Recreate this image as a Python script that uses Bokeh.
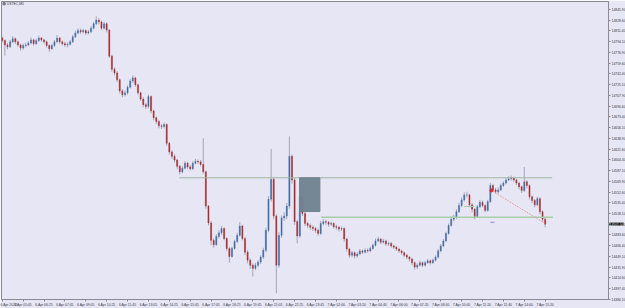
from bokeh.plotting import figure
from bokeh.models import ColumnDataSource, FixedTicker, PrintfTickFormatter, Label, Range1d
from bokeh.embed import file_html
from bokeh.resources import INLINE

# ---------------- data ----------------
symbol = "USTEC,M5"
first_open = 14800

closes = [
    14796, 14789, 14786, 14794, 14799, 14794, 14789, 14784, 14788, 14789,
    14792, 14797, 14791, 14796, 14800, 14797, 14794, 14788, 14783, 14788,
    14794, 14800, 14794, 14791, 14789, 14790, 14794, 14802, 14808, 14812,
    14810, 14812, 14808, 14810, 14816, 14823, 14829, 14826, 14816, 14823,
    14813, 14771, 14750, 14744, 14733, 14715, 14709, 14712, 14721, 14731,
    14736, 14725, 14712, 14702, 14693, 14690, 14706, 14683, 14672, 14666,
    14659, 14658, 14661, 14631, 14617, 14610, 14604, 14594, 14585, 14591,
    14599, 14593, 14590, 14599, 14602, 14601, 14597, 14585, 14530, 14503,
    14475, 14468, 14481, 14487, 14494, 14478, 14462, 14449, 14462, 14473,
    14483, 14498, 14478, 14456, 14443, 14435, 14430, 14435, 14440, 14448,
    14459, 14491, 14541, 14573, 14514, 14435, 14483, 14511, 14514, 14530,
    14610, 14572, 14505, 14482, 14545, 14518, 14502, 14499, 14496, 14494,
    14491, 14486, 14502, 14505, 14504, 14501, 14502, 14497, 14496, 14493,
    14494, 14477, 14461, 14451, 14455, 14450, 14453, 14458, 14456, 14459,
    14458, 14462, 14467, 14474, 14477, 14472, 14474, 14469, 14470, 14466,
    14464, 14461, 14458, 14455, 14451, 14448, 14445, 14439, 14432, 14435,
    14439, 14435, 14439, 14442, 14439, 14443, 14448, 14458, 14466, 14474,
    14486, 14499, 14509, 14512, 14521, 14531, 14540, 14548, 14548, 14532,
    14525, 14513, 14529, 14536, 14531, 14523, 14537, 14563, 14556, 14553,
    14556, 14563, 14567, 14572, 14574, 14575, 14572, 14567, 14561, 14555,
    14569, 14563, 14545, 14539, 14532, 14542, 14521, 14509, 14501,
]

highs = [
    14803, 14798, 14792, 14797, 14803, 14801, 14796, 14791, 14791, 14793,
    14795, 14801, 14799, 14799, 14804, 14802, 14799, 14796, 14790, 14791,
    14797, 14805, 14802, 14796, 14794, 14793, 14797, 14805, 14812, 14816,
    14815, 14815, 14814, 14813, 14819, 14826, 14835, 14832, 14828, 14826,
    14825, 14814, 14773, 14753, 14747, 14735, 14718, 14716, 14724, 14734,
    14740, 14738, 14727, 14714, 14705, 14696, 14709, 14708, 14685, 14674,
    14668, 14662, 14664, 14663, 14633, 14620, 14613, 14606, 14596, 14594,
    14602, 14601, 14596, 14602, 14606, 14605, 14604, 14639, 14587, 14532,
    14506, 14478, 14485, 14491, 14498, 14496, 14480, 14464, 14465, 14476,
    14487, 14504, 14500, 14480, 14459, 14446, 14438, 14439, 14443, 14451,
    14463, 14495, 14546, 14622, 14577, 14517, 14488, 14515, 14520, 14535,
    14642, 14613, 14575, 14508, 14550, 14548, 14521, 14505, 14502, 14499,
    14497, 14494, 14506, 14509, 14508, 14506, 14505, 14504, 14500, 14498,
    14497, 14496, 14479, 14463, 14458, 14457, 14456, 14461, 14460, 14462,
    14462, 14465, 14470, 14478, 14481, 14479, 14477, 14476, 14473, 14472,
    14468, 14466, 14463, 14460, 14457, 14453, 14450, 14447, 14441, 14438,
    14442, 14441, 14442, 14445, 14444, 14446, 14451, 14461, 14469, 14477,
    14489, 14502, 14513, 14516, 14525, 14535, 14544, 14552, 14553, 14550,
    14535, 14527, 14532, 14540, 14539, 14533, 14540, 14567, 14566, 14559,
    14560, 14566, 14570, 14575, 14578, 14579, 14577, 14574, 14569, 14563,
    14593, 14572, 14565, 14547, 14541, 14545, 14544, 14523, 14511,
]

lows = [
    14793, 14772, 14782, 14784, 14792, 14791, 14786, 14780, 14781, 14785,
    14787, 14790, 14788, 14789, 14794, 14794, 14791, 14785, 14778, 14781,
    14786, 14792, 14791, 14788, 14786, 14785, 14788, 14792, 14800, 14806,
    14807, 14808, 14805, 14806, 14808, 14814, 14821, 14822, 14813, 14814,
    14809, 14768, 14746, 14740, 14729, 14711, 14705, 14706, 14709, 14719,
    14728, 14722, 14709, 14699, 14689, 14686, 14687, 14679, 14668, 14662,
    14655, 14654, 14655, 14627, 14613, 14606, 14600, 14590, 14581, 14583,
    14589, 14590, 14587, 14588, 14597, 14598, 14594, 14582, 14526, 14499,
    14467, 14463, 14466, 14478, 14484, 14475, 14458, 14439, 14447, 14460,
    14471, 14481, 14475, 14451, 14438, 14429, 14417, 14427, 14432, 14437,
    14445, 14456, 14488, 14537, 14509, 14390, 14431, 14479, 14506, 14509,
    14526, 14566, 14500, 14470, 14479, 14514, 14498, 14495, 14492, 14490,
    14487, 14482, 14484, 14499, 14500, 14497, 14498, 14494, 14492, 14489,
    14490, 14473, 14457, 14447, 14448, 14446, 14447, 14451, 14453, 14454,
    14455, 14456, 14460, 14465, 14472, 14469, 14470, 14466, 14466, 14463,
    14461, 14458, 14455, 14452, 14448, 14445, 14441, 14435, 14428, 14429,
    14433, 14432, 14433, 14437, 14436, 14437, 14441, 14446, 14456, 14464,
    14472, 14484, 14497, 14506, 14509, 14519, 14528, 14537, 14544, 14528,
    14520, 14509, 14511, 14527, 14528, 14520, 14521, 14535, 14553, 14550,
    14550, 14554, 14561, 14565, 14570, 14571, 14569, 14564, 14557, 14551,
    14553, 14559, 14541, 14535, 14528, 14530, 14517, 14505, 14496,
]

time_labels = [
    "6 Apr 2022", "6 Apr 05:05", "6 Apr 06:25", "6 Apr 07:45", "6 Apr 09:05",
    "6 Apr 10:25", "6 Apr 11:45", "6 Apr 13:05", "6 Apr 14:25", "6 Apr 15:45",
    "6 Apr 17:05", "6 Apr 18:25", "6 Apr 19:45", "6 Apr 21:05", "6 Apr 22:25",
    "6 Apr 23:45", "7 Apr 02:00", "7 Apr 03:20", "7 Apr 04:40", "7 Apr 06:00",
    "7 Apr 07:20", "7 Apr 08:40", "7 Apr 10:00", "7 Apr 11:20", "7 Apr 12:40",
    "7 Apr 14:00", "7 Apr 15:20",
]
bars_per_label = 8

price_ticks = [
    14845.90, 14828.60, 14811.40, 14794.10, 14776.90, 14759.60, 14742.40,
    14725.10, 14707.90, 14690.60, 14673.40, 14656.10, 14638.90, 14621.60,
    14604.40, 14587.10, 14569.90, 14552.60, 14535.40, 14518.10, 14500.90,
    14483.60, 14466.40, 14449.10, 14431.90, 14414.60, 14397.40, 14380.10,
]

# drawn objects (bar index / price)
upper_level = [67.8, 210.7, 14575.5]
lower_level = [122.2, 211.0, 14512.2]
short_level = [177.0, 180.8, 14529.4]
zone = [113.9, 121.7, 14575.5, 14521.3]          # left, right, top, bottom
trend = [[187.4, 207.8], [14555.1, 14502.5]]
blue_mark = [187.0, 188.6, 14504.0]

# view window
x_start, x_end = -0.3, 232.27
y_start, y_end = 14379.9, 14858.8

# ---------------- styling ----------------
BG = "#E6E6F5"
FRAME = "#8a8a96"
TXT = "#3a3a44"
BULL = "#3d6aa3"
BEAR = "#a82c2c"
WICK = "#a4a4b4"
FONT = "Liberation Sans"
FS = "3.4px"

opens = [first_open] + closes[:-1]
idx = list(range(len(closes)))
src = ColumnDataSource(dict(
    x=idx,
    high=highs,
    low=lows,
    top=[max(o, c) for o, c in zip(opens, closes)],
    bottom=[min(o, c) for o, c in zip(opens, closes)],
    color=[BULL if c >= o else BEAR for o, c in zip(opens, closes)],
))

p = figure(frame_width=607, frame_height=298,
           x_range=Range1d(x_start, x_end), y_range=Range1d(y_start, y_end),
           output_backend="svg", toolbar_location=None,
           x_axis_location="below", y_axis_location="right",
           min_border_left=1, min_border_top=1, min_border_bottom=9, min_border_right=17)
p.title.visible = False
p.background_fill_color = BG
p.border_fill_color = BG
p.outline_line_color = FRAME
p.outline_line_width = 1
p.xgrid.visible = False
p.ygrid.visible = False

xa = p.xaxis[0]
xa.ticker = FixedTicker(ticks=[k * bars_per_label for k in range(len(time_labels))])
xa.major_label_overrides = {k * bars_per_label: t for k, t in enumerate(time_labels)}
xa.major_label_text_align = "left"
xa.major_label_text_font = FONT
xa.major_label_text_font_size = FS
xa.major_label_text_color = TXT
xa.major_label_standoff = 1
xa.major_tick_out = 2
xa.major_tick_in = 0
xa.minor_tick_out = 0
xa.minor_tick_in = 0
xa.axis_line_color = FRAME
xa.major_tick_line_color = FRAME

ya = p.yaxis[0]
ya.ticker = FixedTicker(ticks=price_ticks)
ya.formatter = PrintfTickFormatter(format="%.2f")
ya.major_label_text_font = FONT
ya.major_label_text_font_size = FS
ya.major_label_text_color = TXT
ya.major_label_standoff = 1
ya.major_tick_out = 2
ya.major_tick_in = 0
ya.minor_tick_out = 0
ya.minor_tick_in = 0
ya.axis_line_color = FRAME
ya.major_tick_line_color = FRAME

# candles
p.segment(x0="x", y0="low", x1="x", y1="high", source=src, line_color=WICK, line_width=1)
p.vbar(x="x", width=0.42, top="top", bottom="bottom", source=src,
       fill_color="color", line_color="color", line_width=0.4)

# objects
p.segment(x0=[upper_level[0]], y0=[upper_level[2]], x1=[upper_level[1]], y1=[upper_level[2]],
          line_color="#9fb89f", line_width=1)
p.segment(x0=[lower_level[0]], y0=[lower_level[2]], x1=[lower_level[1]], y1=[lower_level[2]],
          line_color="#a6cfa6", line_width=1.6)
p.segment(x0=[short_level[0]], y0=[short_level[2]], x1=[short_level[1]], y1=[short_level[2]],
          line_color="#9fcc9f", line_width=1)
p.quad(left=[zone[0]], right=[zone[1]], top=[zone[2]], bottom=[zone[3]],
       fill_color="#6f818f", fill_alpha=0.95, line_color="#6f818f", line_alpha=0.95)
p.line(trend[0], trend[1], line_color="#f08c8c", line_width=1, line_dash="1 1")
p.scatter([trend[0][0]], [trend[1][0]], size=3, color="#e02828")
p.segment(x0=[blue_mark[0]], y0=[blue_mark[2]], x1=[blue_mark[1]], y1=[blue_mark[2]],
          line_color="#8888e8", line_width=1)

# title
p.scatter([x_start + 1.0], [y_end - 3.5], marker="square", size=2.2, color="#7a7a88")
p.add_layout(Label(x=x_start + 2.0, y=y_end - 4.0, text=symbol, text_font=FONT,
                   text_font_size=FS, text_color=TXT, text_baseline="middle"))

# current price box (on the price scale, right of the frame)
p.add_layout(Label(x=x_end, y=closes[-1], x_offset=1, level="overlay",
                   text=f"{closes[-1]:.2f}",
                   text_font=FONT, text_font_size=FS, text_color="white",
                   text_baseline="middle", background_fill_color="black",
                   background_fill_alpha=1.0), "right")

open("out.html", "w").write(file_html(p, INLINE))
